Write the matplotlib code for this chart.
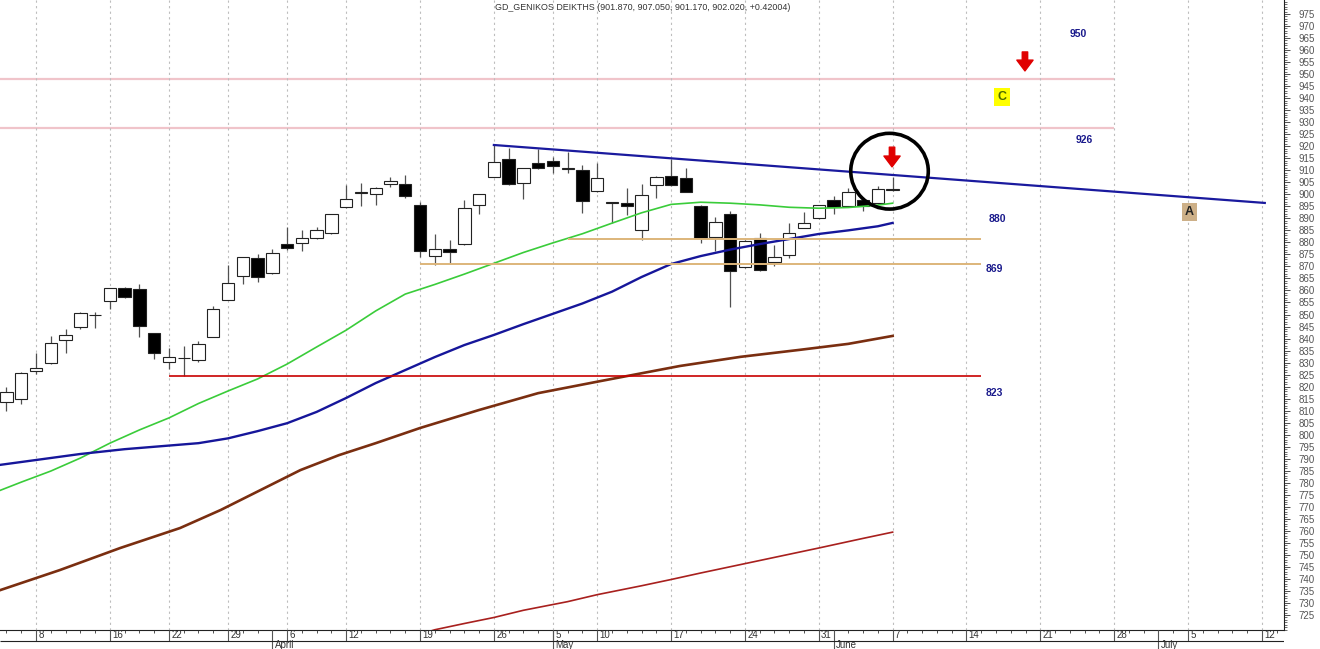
import matplotlib
matplotlib.use('Agg')
import matplotlib.pyplot as plt
from matplotlib.patches import Ellipse
from matplotlib.ticker import MultipleLocator

plt.rcParams['font.family'] = ['Liberation Sans', 'DejaVu Sans']

# trading-day index (0 = 8 March), OHLC
day_idx = list(range(-2, 59))
opens = [813.5, 814.7, 826.4, 829.7, 839.5, 844.7, 849.6, 855.7, 861.2, 860.6,
         842.2, 830.1, 831.8, 831.1, 840.8, 856.0, 866.1, 873.5, 867.4, 879.3,
         879.6, 881.9, 883.8, 894.6, 900.5, 900.0, 904.2, 904.3, 895.5, 874.5,
         877.1, 879.2, 895.4, 907.1, 914.7, 904.6, 912.9, 914.0, 910.6, 910.1,
         901.4, 896.5, 896.3, 885.1, 903.7, 907.7, 906.9, 895.1, 882.4, 891.7,
         869.6, 881.7, 872.0, 874.8, 885.9, 890.0, 897.6, 895.1, 897.6, 896.3, 901.87]
highs = [819.7, 826.0, 834.0, 841.1, 843.8, 851.2, 851.2, 861.0, 861.6, 862.7,
         842.5, 835.9, 836.9, 838.9, 853.7, 870.6, 874.0, 875.0, 877.1, 886.3,
         885.1, 886.5, 892.0, 903.9, 904.6, 903.2, 907.3, 908.0, 896.9, 883.4,
         881.0, 897.6, 900.2, 920.5, 919.1, 911.0, 918.7, 915.6, 917.7, 912.2,
         913.1, 897.0, 902.5, 904.3, 907.5, 914.6, 910.8, 895.5, 890.7, 893.1,
         881.0, 883.8, 878.9, 888.2, 892.5, 895.6, 899.3, 902.5, 897.8, 903.6, 907.05]
lows = [810.0, 812.6, 825.2, 829.5, 833.9, 843.8, 844.2, 852.4, 856.7, 840.8,
        831.4, 827.2, 824.4, 830.1, 840.5, 856.0, 862.7, 863.6, 867.0, 876.8,
        876.4, 881.3, 883.5, 894.2, 895.1, 895.5, 903.2, 898.3, 874.0, 870.6,
        871.3, 879.0, 891.7, 907.0, 904.0, 897.9, 910.6, 908.7, 908.7, 892.3,
        901.0, 887.9, 891.4, 881.0, 898.6, 903.5, 901.0, 879.6, 876.5, 853.2,
        869.3, 868.3, 870.3, 873.4, 885.8, 889.8, 891.7, 895.0, 893.1, 896.0, 901.17]
closes = [817.6, 825.5, 827.6, 838.0, 841.6, 850.5, 849.9, 860.9, 857.4, 845.3,
          833.9, 832.4, 832.0, 837.6, 852.3, 863.0, 873.8, 865.5, 875.5, 877.5,
          881.9, 885.1, 891.8, 897.9, 900.9, 902.5, 905.5, 899.3, 876.4, 877.1,
          876.1, 894.2, 900.0, 913.3, 904.2, 910.8, 910.8, 911.9, 910.9, 897.3,
          906.7, 896.8, 895.1, 899.6, 907.3, 903.9, 901.1, 881.7, 888.6, 868.1,
          880.7, 868.5, 873.8, 883.8, 887.9, 895.4, 894.6, 900.8, 895.3, 902.1, 902.02]

# moving averages sampled off the chart
green_idx = [-3, -1, 1, 3, 5, 7, 9, 11, 13, 15, 17, 19, 21, 23, 25, 27, 29, 31, 33, 35,
             37, 39, 41, 43, 45, 47, 49, 51, 53, 55, 57, 58]
ma_green = [775.5, 780.3, 784.9, 790.3, 796.5, 802.0, 807.0, 813.0, 818.2, 823.2, 829.4,
            836.5, 843.5, 851.5, 858.5, 862.5, 866.8, 871.3, 875.8, 879.8, 883.6, 888.0,
            892.3, 895.8, 896.7, 896.3, 895.6, 894.6, 894.2, 894.5, 895.5, 896.3]
blue_idx = [-3, 0, 3, 6, 9, 11, 13, 15, 17, 19, 21, 23, 25, 27, 29, 31, 33, 35, 37, 39,
            41, 43, 45, 47, 49, 51, 53, 55, 57, 58]
ma_blue = [787.0, 789.5, 792.0, 794.0, 795.5, 796.5, 798.5, 801.5, 804.8, 809.5, 815.3,
           821.5, 826.9, 832.3, 837.3, 841.5, 846.0, 850.3, 854.6, 859.5, 865.6, 871.0,
           874.3, 877.0, 879.3, 881.4, 883.5, 885.0, 886.7, 888.1]
brown_idx = [-3, 1.6, 5.7, 9.75, 12.5, 15.2, 17.9, 20.5, 23, 26, 30, 34, 38.2, 43.6, 47.7,
             51.7, 55, 58]
ma_brown = [734.2, 743.7, 752.9, 761.2, 768.7, 777.0, 785.3, 791.5, 796.5, 802.8, 810.3,
            817.3, 822.3, 828.6, 832.4, 835.3, 837.8, 841.1]
long_idx = [26, 27, 29, 31, 33, 36, 38, 41, 43, 45, 48, 51, 53, 56, 58]
ma_long = [717.0, 718.9, 721.5, 724.0, 727.0, 730.6, 733.5, 737.2, 739.8, 742.5, 746.4,
           750.3, 752.9, 756.9, 759.5]

# drawn levels: (value, start idx, end idx)
pink_levels = [(948.0, -3, 73), (927.6, -3, 73)]
tan_levels = [(881.4, 36, 64), (871.0, 26, 64)]
red_level = (824.4, 9, 64)
trend_x = [31, 83.2]
trend_y = [920.5, 896.4]
level_labels = [('950', 70.6, 966.7), ('926', 71.0, 922.6), ('880', 65.1, 889.7),
                ('869', 64.9, 868.9), ('823', 64.9, 817.3)]

week_idx = [0, 5, 9, 13, 17, 21, 26, 31, 35, 38, 43, 48, 53, 58, 63, 68, 73, 78, 83]
week_lbl = ['8', '16', '22', '29', '6', '12', '19', '26', '5', '10', '17', '24', '31',
            '7', '14', '21', '28', '5', '12']
month_idx = [16, 35, 54, 76]
month_lbl = ['April', 'May', 'June', 'July']

W, H = 1320, 649
fig = plt.figure(figsize=(W / 100, H / 100), dpi=100)
ax = fig.add_axes([0, 19 / H, 1284 / W, 630 / H])
band = fig.add_axes([0, 0, 1284 / W, 19 / H])
xlim = (-2.44, 84.5)
ax.set_xlim(*xlim)
ax.set_ylim(718.8, 980.8)

# candles
ax.vlines(day_idx, lows, highs, color='#505050', lw=0.9, zorder=2)
bottoms = [min(o, c) for o, c in zip(opens, closes)]
heights = [max(abs(c - o), 0.3) for o, c in zip(opens, closes)]
fills = ['white' if c >= o else 'black' for o, c in zip(opens, closes)]
ax.bar(day_idx, heights, bottom=bottoms, width=0.84, color=fills,
       edgecolor='#222222', linewidth=0.8, zorder=3)

# averages
ax.plot(green_idx, ma_green, color='#3ACC3A', lw=1.2, zorder=4)
ax.plot(blue_idx, ma_blue, color='#16169A', lw=1.7, zorder=4)
ax.plot(brown_idx, ma_brown, color='#7A2E10', lw=1.9, zorder=4)
ax.plot(long_idx, ma_long, color='#A8201E', lw=1.2, zorder=4)

# levels
for v, a, b in pink_levels:
    ax.hlines(v, a, b, color='#F0C4CA', lw=1.6, zorder=1)
for v, a, b in tan_levels:
    ax.hlines(v, a, b, color='#DDB57A', lw=1.4, zorder=5)
ax.hlines(red_level[0], red_level[1], red_level[2], color='#C80000', lw=1.2, zorder=4)
ax.plot(trend_x, trend_y, color='#1A1A9E', lw=1.6, zorder=5)

for t, x, y in level_labels:
    ax.text(x, y, t, color='#1A1A8C', fontsize=7.5, fontweight='bold', ha='center', va='center')

ax.text(65.4, 940.5, 'C', fontsize=9, fontweight='bold', color='#4C6A00', ha='center', va='center',
        bbox=dict(boxstyle='square,pad=0.25', fc='#FFFF00', ec='none'))
ax.text(78.1, 892.6, 'A', fontsize=9, fontweight='bold', color='#222222', ha='center', va='center',
        bbox=dict(boxstyle='square,pad=0.25', fc='#CDB088', ec='none'))

ax.add_patch(Ellipse((57.79, 909.6), 5.25, 31.5, fill=False, ec='black', lw=2.6, zorder=6))
for x, y0, y1 in [(57.96, 919.6, 911.4), (66.96, 959.2, 951.3)]:
    ax.annotate('', xy=(x, y1), xytext=(x, y0),
                arrowprops=dict(arrowstyle='simple,head_width=0.9,head_length=0.6,tail_width=0.3',
                                color='#E00000', mutation_scale=13, shrinkA=0, shrinkB=0), zorder=7)

# axes styling
ax.set_xticks(week_idx)
ax.set_xticklabels([])
ax.tick_params(axis='x', length=0)
ax.grid(axis='x', color='#BDBDBD', lw=0.8, ls=(0, (2, 3)))
ax.yaxis.tick_right()
ax.set_yticks(range(725, 980, 5))
ax.yaxis.set_minor_locator(MultipleLocator(1))
ax.tick_params(axis='y', which='major', direction='out', length=4.5, width=0.6,
               color='#333333', labelsize=7, labelcolor='#555555', pad=6)
ax.tick_params(axis='y', which='minor', direction='out', length=2.2, width=0.5, color='#333333')
for s in ['left', 'top']:
    ax.spines[s].set_visible(False)
for s in ['right', 'bottom']:
    ax.spines[s].set_color('#222222')
    ax.spines[s].set_linewidth(0.8)

fig.text(643 / W, 1 - 7 / H, 'GD_GENIKOS DEIKTHS (901.870, 907.050, 901.170, 902.020, +0.42004)',
         fontsize=6.4, color='#333333', ha='center', va='center')

# date band
band.set_xlim(*xlim)
band.set_ylim(0, 19)
band.axis('off')
band.vlines(range(-2, 85), 16.5, 19, color='#333333', lw=0.6)
band.vlines(week_idx, 8.5, 19, color='#555555', lw=0.8)
band.vlines(month_idx, 0, 19, color='#555555', lw=0.8)
band.hlines(8.5, xlim[0], xlim[1], color='#222222', lw=0.8)
for x, t in zip(week_idx, week_lbl):
    band.text(x + 0.15, 13.5, t, fontsize=7, color='#333333', ha='left', va='center')
for x, t in zip(month_idx, month_lbl):
    band.text(x + 0.15, 3.8, t, fontsize=7, color='#333333', ha='left', va='center')

fig.savefig('out.png', dpi=100)
